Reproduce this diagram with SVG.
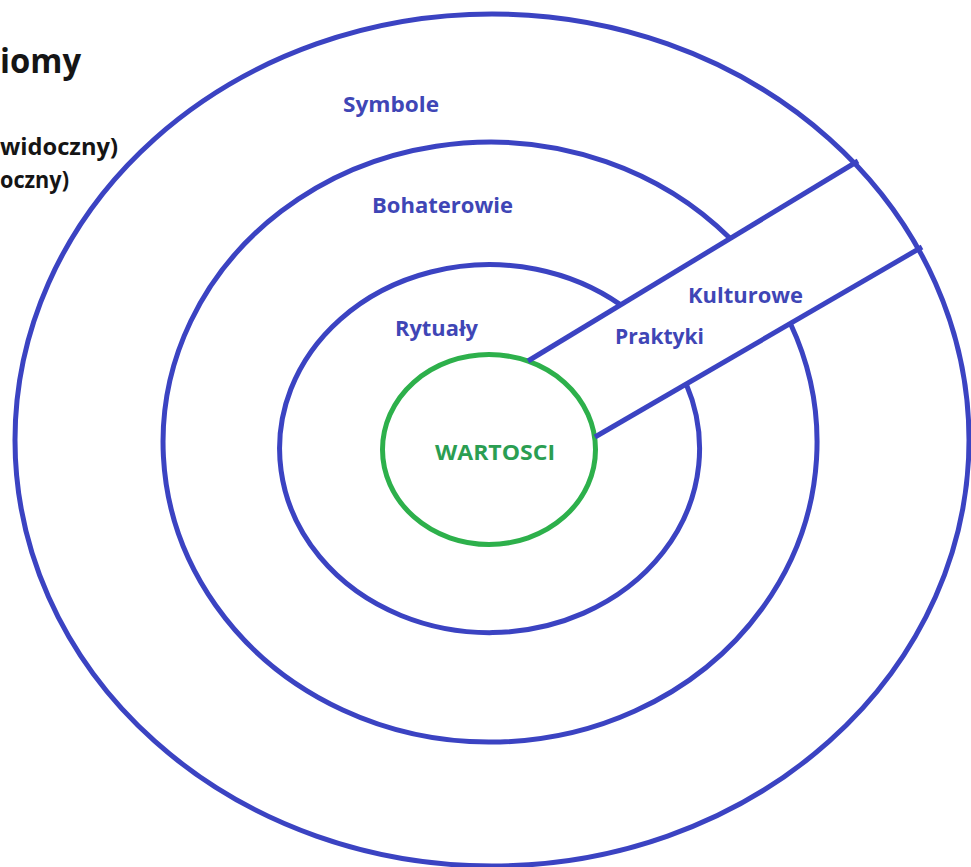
<svg xmlns="http://www.w3.org/2000/svg" width="971" height="867" viewBox="0 0 971 867">
<style>
.ring{fill:none;stroke:#3b43c2;stroke-width:5;stroke-linecap:butt}
.core{fill:none;stroke:#2db04b;stroke-width:5}
.lbl{font-family:"Open Sans","Liberation Sans",sans-serif;font-weight:bold;font-size:22px;fill:#3f46b6}
.core-lbl{font-family:"Open Sans","Liberation Sans",sans-serif;font-weight:bold;font-size:22px;fill:#2b9e52}
.side{font-family:"Open Sans","Liberation Sans",sans-serif;font-weight:bold;fill:#151515}
</style>
<rect width="971" height="867" fill="#ffffff"/>
<g id="legend">
<text class="side" x="0" y="73" font-size="34" textLength="81" lengthAdjust="spacingAndGlyphs">iomy</text>
<text class="side" x="0" y="155" font-size="23" textLength="118" lengthAdjust="spacingAndGlyphs">widoczny)</text>
<text class="side" x="0" y="188" font-size="23" textLength="69" lengthAdjust="spacingAndGlyphs">oczny)</text>
</g>
<g id="symbole">
<ellipse class="ring" cx="492" cy="440" rx="477" ry="426"/>
<text class="lbl" x="343" y="112" textLength="96" lengthAdjust="spacingAndGlyphs">Symbole</text>
</g>
<g id="bohaterowie">
<path class="ring" d="M730.3,238.6 A327,300 0 1 0 790.4,323.5"/>
<text class="lbl" x="372" y="213" textLength="141" lengthAdjust="spacingAndGlyphs">Bohaterowie</text>
</g>
<g id="rytualy">
<path class="ring" d="M620.7,304.9 A210,184 0 1 0 686.2,384"/>
<text class="lbl" x="395" y="336" textLength="83" lengthAdjust="spacingAndGlyphs">Rytuały</text>
</g>
<g id="wartosci">
<ellipse class="core" cx="489" cy="449.5" rx="106.5" ry="95"/>
<text class="core-lbl" x="435" y="460" textLength="120" lengthAdjust="spacingAndGlyphs">WARTOSCI</text>
</g>
<g id="praktyki">
<text class="lbl" x="615" y="344" textLength="89" lengthAdjust="spacingAndGlyphs">Praktyki</text>
<text class="lbl" x="688" y="303" textLength="115" lengthAdjust="spacingAndGlyphs">Kulturowe</text>
</g>
<g id="connectors">
<line class="ring" x1="528" y1="361" x2="858" y2="161"/>
<line class="ring" x1="595" y1="437" x2="922" y2="247"/>
</g>
</svg>
